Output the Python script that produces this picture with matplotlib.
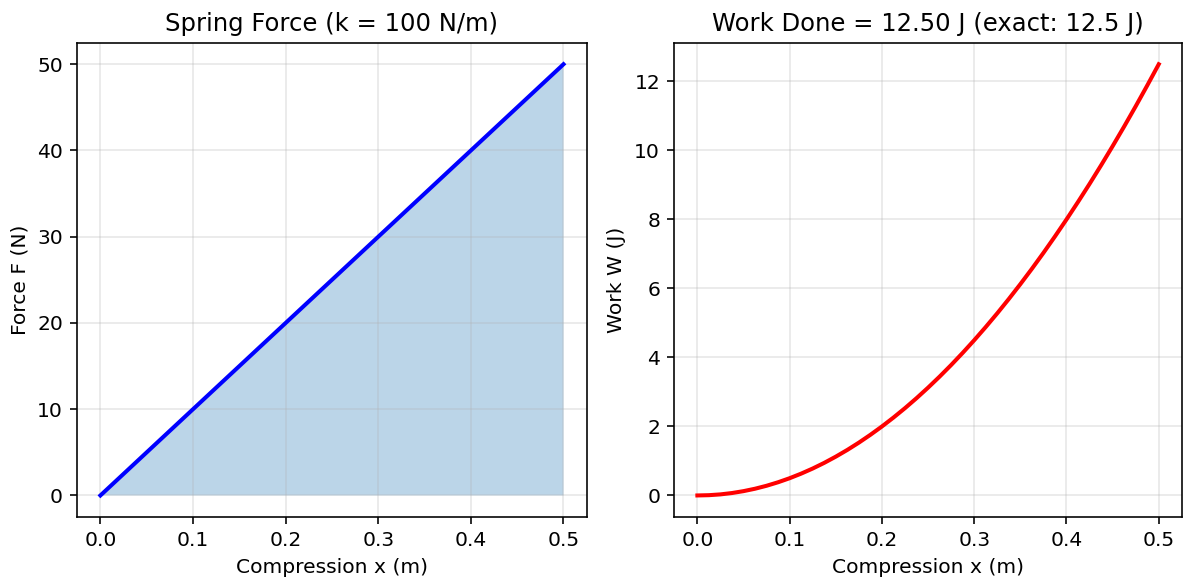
import numpy as np
from matplotlib import pyplot as plt

k = 100  # N/m

# compression (m) and the readings taken along it
x = [0.0, 0.0125, 0.025, 0.0375, 0.05, 0.0625, 0.075, 0.0875, 0.1, 0.1125,
     0.125, 0.1375, 0.15, 0.1625, 0.175, 0.1875, 0.2, 0.2125, 0.225, 0.2375,
     0.25, 0.2625, 0.275, 0.2875, 0.3, 0.3125, 0.325, 0.3375, 0.35, 0.3625,
     0.375, 0.3875, 0.4, 0.4125, 0.425, 0.4375, 0.45, 0.4625, 0.475, 0.4875,
     0.5]
force = [0.0, 1.25, 2.5, 3.75, 5.0, 6.25, 7.5, 8.75, 10.0, 11.25,
         12.5, 13.75, 15.0, 16.25, 17.5, 18.75, 20.0, 21.25, 22.5, 23.75,
         25.0, 26.25, 27.5, 28.75, 30.0, 31.25, 32.5, 33.75, 35.0, 36.25,
         37.5, 38.75, 40.0, 41.25, 42.5, 43.75, 45.0, 46.25, 47.5, 48.75,
         50.0]
work = [0.0, 0.008, 0.031, 0.070, 0.125, 0.195, 0.281, 0.383, 0.5, 0.633,
        0.781, 0.945, 1.125, 1.320, 1.531, 1.758, 2.0, 2.258, 2.531, 2.820,
        3.125, 3.445, 3.781, 4.133, 4.5, 4.883, 5.281, 5.695, 6.125, 6.570,
        7.031, 7.508, 8.0, 8.508, 9.031, 9.570, 10.125, 10.695, 11.281, 11.883,
        12.5]


def main():
    dpi = 145.5
    fig = plt.figure(figsize=(1183 / dpi, 580 / dpi), dpi=dpi)
    ax1 = fig.add_axes([0.0653, 0.1086, 0.4306, 0.8178])
    ax2 = fig.add_axes([0.5700, 0.1086, 0.4290, 0.8178])

    ax1.plot(x, force, color='blue', lw=2)
    ax1.fill_between(x, force, alpha=0.3)
    ax1.set_title(f'Spring Force (k = {k} N/m)')
    ax1.set_xlabel('Compression x (m)')
    ax1.set_ylabel('Force F (N)')
    ax1.grid(True, alpha=0.3)

    exact = 0.5 * k * x[-1] ** 2
    ax2.plot(x, work, color='red', lw=2)
    ax2.set_title(f'Work Done = {work[-1]:.2f} J (exact: {exact} J)')
    ax2.set_xlabel('Compression x (m)')
    ax2.set_ylabel('Work W (J)')
    ax2.grid(True, alpha=0.3)

    fig.savefig('out.png', dpi=dpi)


if __name__ == '__main__':
    main()
